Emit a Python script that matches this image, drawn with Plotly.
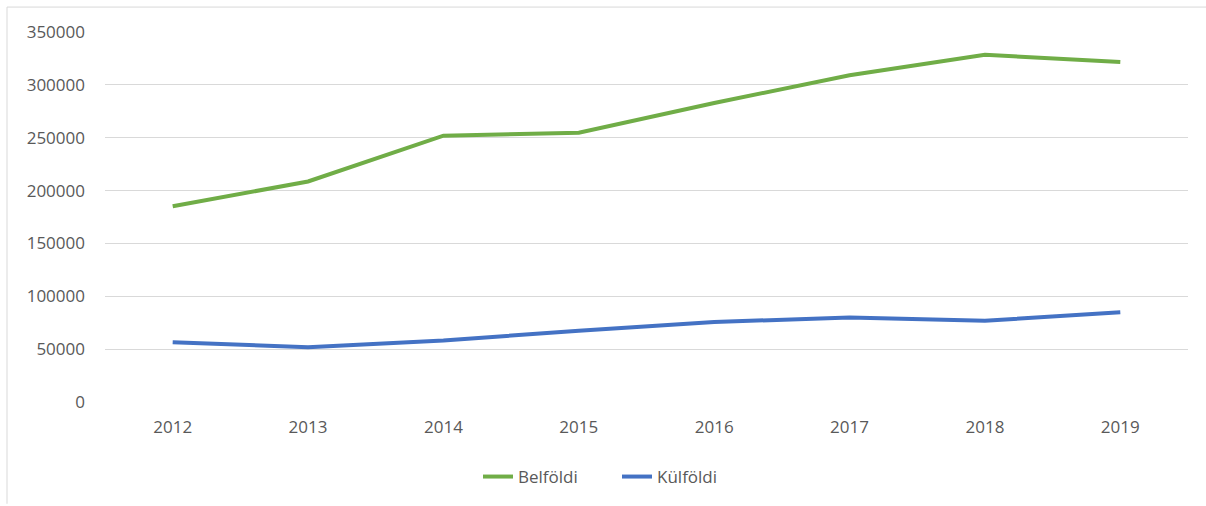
import plotly.graph_objects as go

years = ["2012", "2013", "2014", "2015", "2016", "2017", "2018", "2019"]
belfoldi = [185100, 208600, 251900, 254800, 282900, 309000, 328500, 321600]
kulfoldi = [56600, 51900, 58200, 67500, 75600, 80000, 76900, 84800]
y_ticks = [0, 50000, 100000, 150000, 200000, 250000, 300000, 350000]

grey = "#595959"
font_family = "Open Sans, Liberation Sans, sans-serif"

fig = go.Figure()
fig.add_trace(go.Scatter(x=years, y=belfoldi, mode="lines", name="Belföldi",
                         line=dict(color="#70AD47", width=4)))
fig.add_trace(go.Scatter(x=years, y=kulfoldi, mode="lines", name="Külföldi",
                         line=dict(color="#4472C4", width=4)))

L, R, T, B = 105, 1188, 32, 403
W, H = 1206, 506
pw, ph = R - L, B - T

fig.update_layout(
    width=W, height=H,
    margin=dict(l=L, r=W - R, t=T, b=H - B),
    paper_bgcolor="white", plot_bgcolor="white",
    font=dict(family=font_family, size=17, color=grey),
    showlegend=True,
    legend=dict(orientation="h", x=(617 - L) / pw, xanchor="center",
                y=(B - 477) / ph, yanchor="middle", entrywidth=94,
                font=dict(size=17, color=grey)),
    xaxis=dict(type="category", range=[-0.5, 7.5], showgrid=False, zeroline=False,
               showline=False, ticks="", ticklabelstandoff=13,
               tickfont=dict(size=17, color=grey)),
    yaxis=dict(range=[0, 350000], tickvals=y_ticks, ticktext=[str(v) for v in y_ticks],
               showgrid=True, gridcolor="#D9D9D9", gridwidth=1, zeroline=False,
               showline=False, ticks="", ticklabelstandoff=19,
               tickfont=dict(size=17, color=grey)),
    shapes=[
        dict(type="line", xref="paper", yref="paper",
             x0=(7 - L) / pw, x1=(W + 5 - L) / pw, y0=(B - 7) / ph, y1=(B - 7) / ph,
             line=dict(color="#D9D9D9", width=1)),
        dict(type="line", xref="paper", yref="paper",
             x0=(7 - L) / pw, x1=(7 - L) / pw, y0=(B - 7) / ph, y1=(B - 505) / ph,
             line=dict(color="#D9D9D9", width=1)),
    ],
)

fig.write_html("out.html", config={"displayModeBar": False},
               post_script="document.body.style.margin='0px';")
